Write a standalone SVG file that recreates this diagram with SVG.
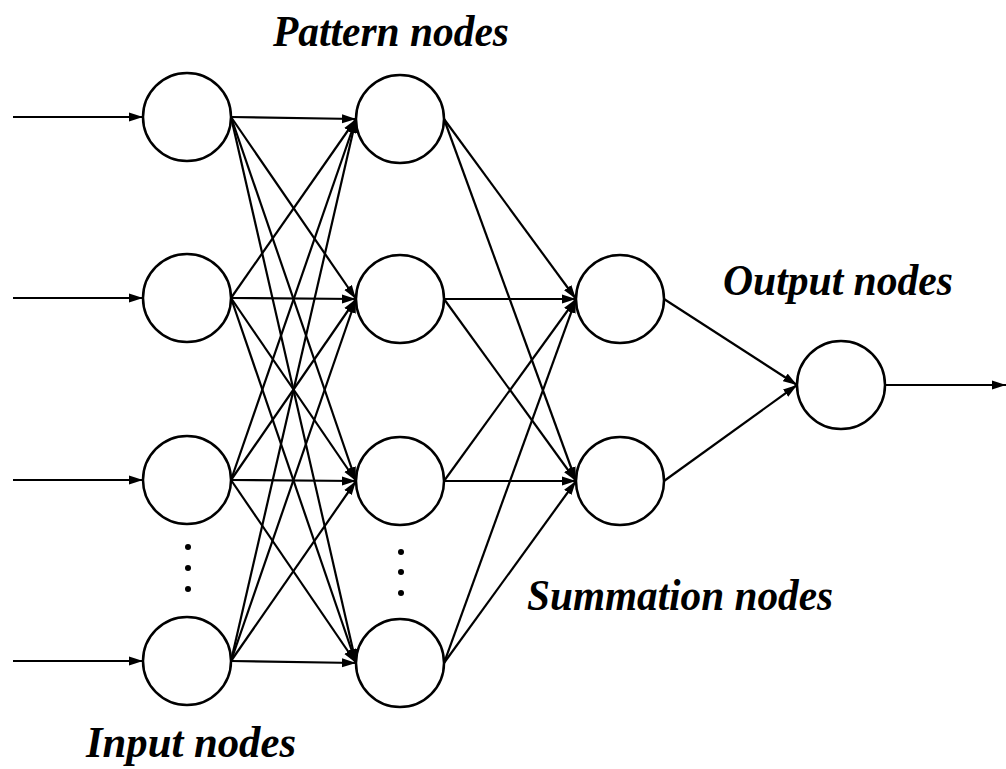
<svg xmlns="http://www.w3.org/2000/svg" width="1006" height="769" viewBox="0 0 1006 769">
  <style>
    .node { fill: #fff; stroke: #000; stroke-width: 2.5; }
    .edge { stroke: #000; stroke-width: 2.2; fill: none; marker-end: url(#arrow); }
    .dot { fill: #000; }
    .label { font-family: "Liberation Serif", "Times New Roman", serif; font-weight: bold; font-style: italic; font-size: 44px; fill: #000; }
  </style>
  <defs>
    <marker id="arrow" markerUnits="userSpaceOnUse" markerWidth="15" markerHeight="10" refX="14" refY="5" orient="auto">
      <path d="M0,0.5 L14,5 L0,9.5 Z" fill="#000"/>
    </marker>
  </defs>
  <rect width="1006" height="769" fill="#fff"/>

  <!-- connectors -->
  <g id="connectors">
    <!-- external inputs -->
    <line class="edge" x1="13" y1="117" x2="143" y2="117"/>
    <line class="edge" x1="13" y1="298" x2="143" y2="298"/>
    <line class="edge" x1="13" y1="480" x2="143" y2="480"/>
    <line class="edge" x1="13" y1="661" x2="143" y2="661"/>

    <!-- input layer to pattern layer (fully connected) -->
    <line class="edge" x1="231" y1="117" x2="356" y2="119"/>
    <line class="edge" x1="231" y1="117" x2="356" y2="299"/>
    <line class="edge" x1="231" y1="117" x2="356" y2="481"/>
    <line class="edge" x1="231" y1="117" x2="356" y2="663"/>
    <line class="edge" x1="231" y1="298" x2="356" y2="119"/>
    <line class="edge" x1="231" y1="298" x2="356" y2="299"/>
    <line class="edge" x1="231" y1="298" x2="356" y2="481"/>
    <line class="edge" x1="231" y1="298" x2="356" y2="663"/>
    <line class="edge" x1="231" y1="480" x2="356" y2="119"/>
    <line class="edge" x1="231" y1="480" x2="356" y2="299"/>
    <line class="edge" x1="231" y1="480" x2="356" y2="481"/>
    <line class="edge" x1="231" y1="480" x2="356" y2="663"/>
    <line class="edge" x1="231" y1="661" x2="356" y2="119"/>
    <line class="edge" x1="231" y1="661" x2="356" y2="299"/>
    <line class="edge" x1="231" y1="661" x2="356" y2="481"/>
    <line class="edge" x1="231" y1="661" x2="356" y2="663"/>

    <!-- pattern layer to summation layer -->
    <line class="edge" x1="444" y1="119" x2="576" y2="299"/>
    <line class="edge" x1="444" y1="119" x2="576" y2="481"/>
    <line class="edge" x1="444" y1="299" x2="576" y2="299"/>
    <line class="edge" x1="444" y1="299" x2="576" y2="481"/>
    <line class="edge" x1="444" y1="481" x2="576" y2="299"/>
    <line class="edge" x1="444" y1="481" x2="576" y2="481"/>
    <line class="edge" x1="444" y1="663" x2="576" y2="299"/>
    <line class="edge" x1="444" y1="663" x2="576" y2="481"/>

    <!-- summation layer to output -->
    <line class="edge" x1="664" y1="299" x2="797" y2="385"/>
    <line class="edge" x1="664" y1="481" x2="797" y2="385"/>

    <!-- output -->
    <line class="edge" x1="886" y1="385" x2="1006" y2="385"/>
  </g>

  <!-- input layer -->
  <g id="input-1"><circle class="node" cx="187" cy="117" r="44"/></g>
  <g id="input-2"><circle class="node" cx="187" cy="298" r="44"/></g>
  <g id="input-3"><circle class="node" cx="187" cy="480" r="44"/></g>
  <g id="input-4"><circle class="node" cx="187" cy="661" r="44"/></g>
  <g id="input-ellipsis">
    <circle class="dot" cx="188" cy="547" r="3"/>
    <circle class="dot" cx="188" cy="568" r="3"/>
    <circle class="dot" cx="188" cy="589" r="3"/>
  </g>

  <!-- pattern layer -->
  <g id="pattern-1"><circle class="node" cx="400" cy="119" r="44"/></g>
  <g id="pattern-2"><circle class="node" cx="400" cy="299" r="44"/></g>
  <g id="pattern-3"><circle class="node" cx="400" cy="481" r="44"/></g>
  <g id="pattern-4"><circle class="node" cx="400" cy="663" r="44"/></g>
  <g id="pattern-ellipsis">
    <circle class="dot" cx="401" cy="552" r="3"/>
    <circle class="dot" cx="401" cy="572" r="3"/>
    <circle class="dot" cx="401" cy="593" r="3"/>
  </g>

  <!-- summation layer -->
  <g id="summation-1"><circle class="node" cx="620" cy="299" r="44"/></g>
  <g id="summation-2"><circle class="node" cx="620" cy="481" r="44"/></g>

  <!-- output layer -->
  <g id="output-1"><circle class="node" cx="841" cy="385" r="44"/></g>

  <!-- layer labels -->
  <g id="labels">
    <text class="label" x="273" y="46" textLength="236" lengthAdjust="spacingAndGlyphs">Pattern nodes</text>
    <text class="label" x="723" y="295" textLength="230" lengthAdjust="spacingAndGlyphs">Output nodes</text>
    <text class="label" x="527" y="610" textLength="306" lengthAdjust="spacingAndGlyphs">Summation nodes</text>
    <text class="label" x="86" y="757" textLength="210" lengthAdjust="spacingAndGlyphs">Input nodes</text>
  </g>
</svg>
